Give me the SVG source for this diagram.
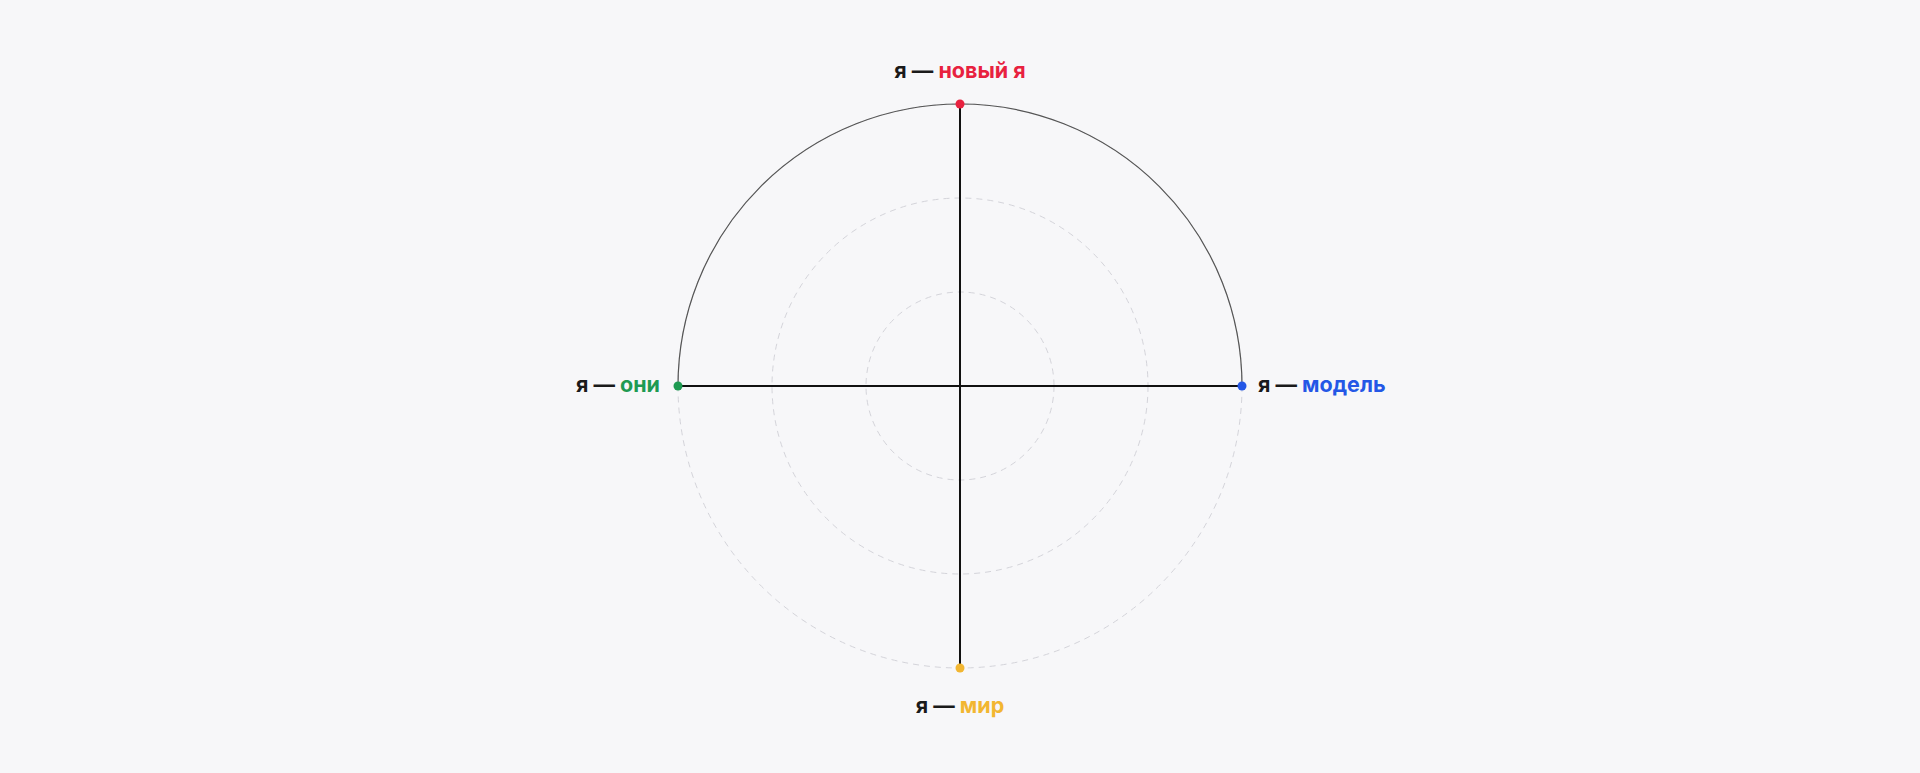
<svg xmlns="http://www.w3.org/2000/svg" width="1920" height="773" viewBox="0 0 1920 773">
<style>
.lbl{font-family:Inter,"Noto Sans","DejaVu Sans",sans-serif;font-weight:700;font-size:21.5px;fill:#1a1a1a}
.grid{fill:none;stroke:#d4d4da;stroke-width:1;stroke-dasharray:6 5}
.axis{stroke:#111;stroke-width:2}
</style>
<rect width="1920" height="773" fill="#f7f7f9"/>
<g id="grid">
<circle class="grid" cx="960" cy="386" r="94"/>
<circle class="grid" cx="960" cy="386" r="188"/>
<circle class="grid" cx="960" cy="386" r="282"/>
</g>
<g id="connectors">
<path d="M678 386 A282 282 0 0 1 1242 386" fill="none" stroke="#555" stroke-width="1.2"/>
<line class="axis" x1="960" y1="104" x2="960" y2="668"/>
<line class="axis" x1="678" y1="386" x2="1242" y2="386"/>
</g>
<g id="node-top">
<circle cx="960" cy="104" r="4.5" fill="#e8213f"/>
<text class="lbl" x="960" y="78" text-anchor="middle">я — <tspan fill="#e8213f">новый я</tspan></text>
</g>
<g id="node-right">
<circle cx="1242" cy="386" r="4.5" fill="#2457e6"/>
<text class="lbl" x="1258" y="392">я — <tspan fill="#2457e6">модель</tspan></text>
</g>
<g id="node-left">
<circle cx="678" cy="386" r="4.5" fill="#1e9a52"/>
<text class="lbl" x="660" y="392" text-anchor="end">я — <tspan fill="#1e9a52">они</tspan></text>
</g>
<g id="node-bottom">
<circle cx="960" cy="668" r="4.5" fill="#f2b631"/>
<text class="lbl" x="960" y="713" text-anchor="middle">я — <tspan fill="#f2b631">мир</tspan></text>
</g>
</svg>
